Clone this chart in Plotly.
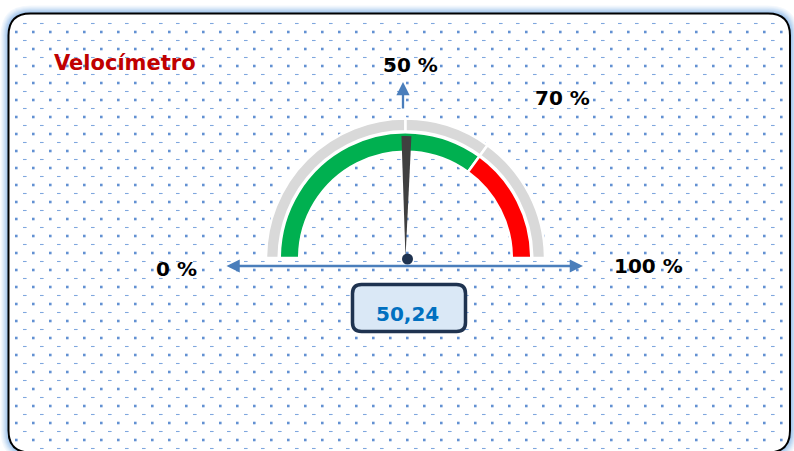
import numpy as np
import plotly.graph_objects as go

# ---------------- data ----------------
title_text = "Velocímetro"
value = 50.24
value_text = "50,24"
zone_limits = [0, 70, 100]            # green zone, red zone
zone_colors = ["#00B050", "#FF0000"]
scale_marks = [0, 50, 70, 100]        # grey outer ring split points
scale_labels = ["0 %", "50 %", "70 %", "100 %"]

# ---------------- canvas ----------------
W, H = 794, 451
cx, cy = 405.5, 258.0
FONT = "DejaVu Sans"


def domain_for(r):
    return dict(x=[(cx - r) / W, (cx + r) / W],
                y=[(H - cy - r) / H, (H - cy + r) / H])


def rrect(x0, y0, x1, y1, r):
    return (f"M{x0+r},{y0} L{x1-r},{y0} Q{x1},{y0} {x1},{y0+r} "
            f"L{x1},{y1-r} Q{x1},{y1} {x1-r},{y1} L{x0+r},{y1} "
            f"Q{x0},{y1} {x0},{y1-r} L{x0},{y0+r} Q{x0},{y0} {x0+r},{y0} Z")


fig = go.Figure()

# frame geometry
fx0, fy0, fx1, fy1, fr = 8.5, 13.5, 790.0, 452.5, 22

shapes = []
# glow around frame
glow_cols = ["#F4F8FD", "#EBF3FB", "#E0ECF9", "#D3E4F6", "#C5DBF3",
             "#B7D2F0", "#A9C9EC", "#9CC0E9"]
for i, col in enumerate(glow_cols):
    off = 8 - i
    shapes.append(dict(type="path", xref="x", yref="y", layer="below",
                       path=rrect(fx0 - off, fy0 - off, fx1 + off, fy1 + off, fr + off),
                       fillcolor=col, line=dict(width=0)))
shapes.append(dict(type="path", xref="x", yref="y", layer="below",
                   path=rrect(fx0, fy0, fx1, fy1, fr),
                   fillcolor="white", line=dict(color="black", width=2)))

# dotted background pattern (decoration), clipped to frame
def inside(px, py, pad=3):
    x0, y0, x1, y1, r = fx0 + pad, fy0 + pad, fx1 - pad, fy1 - pad, fr
    ok = (px >= x0) & (px <= x1) & (py >= y0) & (py <= y1)
    for ccx, ccy, sx, sy in [(x0 + r, y0 + r, -1, -1), (x1 - r, y0 + r, 1, -1),
                             (x0 + r, y1 - r, -1, 1), (x1 - r, y1 - r, 1, 1)]:
        corner = ((px - ccx) * sx > 0) & ((py - ccy) * sy > 0)
        far = (px - ccx) ** 2 + (py - ccy) ** 2 > r ** 2
        ok &= ~(corner & far)
    return ok

gx, gy = np.meshgrid(np.arange(16.3, W, 17.0), np.arange(15.0, H, 17.0))
gx, gy = gx.ravel(), gy.ravel()
m = inside(gx, gy)
fig.add_trace(go.Scatter(x=gx[m], y=gy[m], mode="markers", hoverinfo="skip",
                         marker=dict(symbol="square", size=2.6, color="#6391D2",
                                     line=dict(width=0)), showlegend=False))
dx, dy = np.meshgrid(np.arange(7.8, W, 17.0), np.arange(6.5, H, 17.0))
dx, dy = dx.ravel(), dy.ravel()
m = inside(dx, dy)
fig.add_trace(go.Scatter(x=dx[m], y=dy[m], mode="markers", hoverinfo="skip",
                         marker=dict(symbol="line-ew", size=2.6,
                                     line=dict(width=1.1, color="#7FA7DE")),
                         showlegend=False))

# ---------------- gauge ----------------
# outer grey ring, split at the scale marks
grey_vals = list(np.diff(scale_marks)) + [scale_marks[-1] - scale_marks[0]]
n = len(grey_vals)
fig.add_trace(go.Pie(values=grey_vals, sort=False, direction="clockwise", rotation=-90,
                     hole=0.9086, domain=domain_for(139.5), textinfo="none",
                     hoverinfo="skip", showlegend=False,
                     marker=dict(colors=["#D9D9D9"] * (n - 1) + ["rgba(0,0,0,0)"],
                                 line=dict(color=["white"] * (n - 1) + ["rgba(0,0,0,0)"],
                                           width=[2.5] * (n - 1) + [0]))))

# coloured zone ring
zone_vals = list(np.diff(zone_limits)) + [zone_limits[-1] - zone_limits[0]]
k = len(zone_vals)
fig.add_trace(go.Pie(values=zone_vals, sort=False, direction="clockwise", rotation=-90,
                     hole=0.845, domain=domain_for(125.75), textinfo="none",
                     hoverinfo="skip", showlegend=False,
                     marker=dict(colors=zone_colors + ["rgba(0,0,0,0)"],
                                 line=dict(color=["white"] * (k - 1) + ["rgba(0,0,0,0)"],
                                           width=[2.5] * (k - 1) + [0]))))

# needle as a thin pie slice
nw = 2.6
needle_vals = [value - nw / 2, nw, 100 - value - nw / 2, 100]
fig.add_trace(go.Pie(values=needle_vals, sort=False, direction="clockwise", rotation=-90,
                     hole=0, domain=domain_for(122), textinfo="none",
                     hoverinfo="skip", showlegend=False,
                     marker=dict(colors=["rgba(0,0,0,0)", "#404040",
                                         "rgba(0,0,0,0)", "rgba(0,0,0,0)"],
                                 line=dict(width=0))))

# centre hub
shapes.append(dict(type="circle", xref="x", yref="y", layer="above",
                   x0=cx + 2 - 5.5, x1=cx + 2 + 5.5, y0=cy + 1 - 5.5, y1=cy + 1 + 5.5,
                   fillcolor="#1F3350", line=dict(width=0)))

# value box
shapes.append(dict(type="path", xref="x", yref="y", layer="above",
                   path=rrect(352.5, 284.5, 465.5, 331.5, 9),
                   fillcolor="#DAE8F6", line=dict(color="#1F3350", width=3.5)))

annotations = []
# axes arrows
arrow_col = "#4A7EBB"
annotations.append(dict(x=583, y=266, ax=225, ay=266, xref="x", yref="y",
                        axref="x", ayref="y", text="", showarrow=True,
                        arrowside="end+start", arrowhead=2, startarrowhead=2,
                        arrowsize=1.15, startarrowsize=1.15, arrowwidth=2.3,
                        arrowcolor=arrow_col))
annotations.append(dict(x=403, y=82, ax=403, ay=110, xref="x", yref="y",
                        axref="x", ayref="y", text="", showarrow=True,
                        arrowhead=2, arrowsize=1.15, arrowwidth=2.3,
                        arrowcolor=arrow_col))

# scale labels
label_pos = [(176, 269), (410.5, 65), (562, 98), (648, 266)]
for (lx, ly), txt in zip(label_pos, scale_labels):
    annotations.append(dict(x=lx, y=ly, xref="x", yref="y", text=txt, showarrow=False,
                            xanchor="center", yanchor="middle",
                            font=dict(family=FONT, size=20, color="black", weight="bold")))

# title
annotations.append(dict(x=124.5, y=63, xref="x", yref="y", text=title_text, showarrow=False,
                        xanchor="center", yanchor="middle",
                        font=dict(family=FONT, size=21, color="#C00000", weight="bold")))
# value
annotations.append(dict(x=407, y=313.5, xref="x", yref="y", text=value_text, showarrow=False,
                        xanchor="center", yanchor="middle",
                        font=dict(family=FONT, size=20, color="#0070C0", weight="bold")))

fig.update_layout(
    width=W, height=H, margin=dict(l=0, r=0, t=0, b=0),
    paper_bgcolor="white", plot_bgcolor="rgba(0,0,0,0)",
    xaxis=dict(range=[0, W], visible=False, fixedrange=True),
    yaxis=dict(range=[H, 0], visible=False, fixedrange=True),
    shapes=shapes, annotations=annotations, hovermode=False, showlegend=False,
)

fig.write_html("out.html", config={"displayModeBar": False, "staticPlot": True},
               post_script="document.body.style.margin='0';document.body.style.overflow='hidden';")
